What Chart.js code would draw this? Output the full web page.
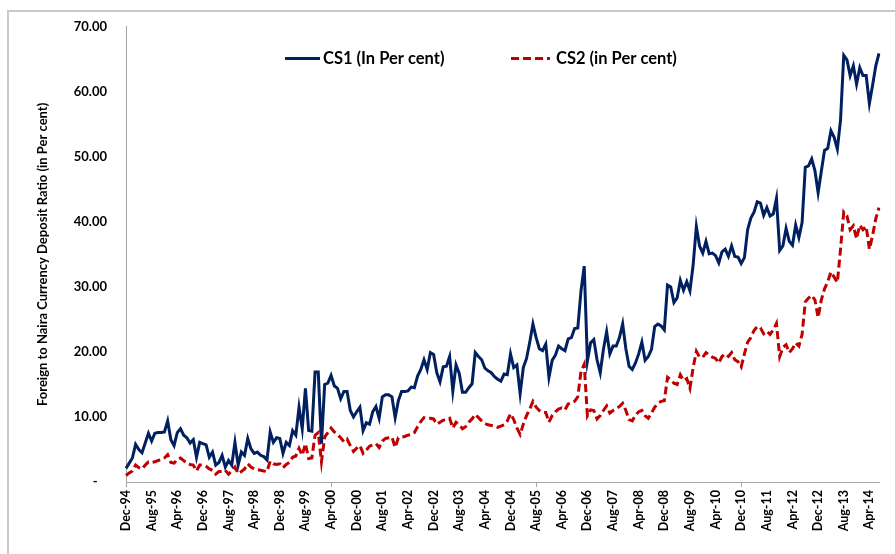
<!DOCTYPE html>
<html>
<head>
<meta charset="utf-8">
<script src="https://cdn.jsdelivr.net/npm/chart.js@4.4.1/dist/chart.umd.min.js"></script>
<style>
  html, body { margin: 0; padding: 0; background: #ffffff; }
  #wrap { width: 895px; height: 554px; position: relative; }
</style>
</head>
<body>
<div id="wrap"><canvas id="c" width="895" height="554"></canvas></div>
<script>
// ---- data (monthly, Dec-94 .. Jul-14) ----
const monthNames = ['Jan','Feb','Mar','Apr','May','Jun','Jul','Aug','Sep','Oct','Nov','Dec'];
const startYear = 1994, startMonth = 11; // Dec-94
const cs1 = [
  2.1, 2.9, 3.7, 5.8, 5.0, 4.5, 6.0, 7.5, 6.3, 7.5,
  7.6, 7.6, 7.7, 9.4, 6.5, 5.6, 7.6, 8.2, 7.2, 6.8,
  6.0, 6.5, 3.8, 6.1, 5.9, 5.7, 3.8, 4.6, 2.6, 3.0,
  4.1, 2.3, 3.3, 2.6, 6.1, 2.6, 4.6, 4.1, 6.7, 5.1,
  4.4, 4.6, 4.1, 3.9, 3.4, 7.7, 6.1, 6.8, 6.7, 4.4,
  6.1, 5.6, 7.9, 7.2, 11.5, 8.2, 14.4, 7.9, 7.8, 16.9,
  16.9, 5.9, 15.0, 15.2, 16.4, 14.8, 14.4, 12.8, 13.9, 13.9,
  11.0, 10.0, 10.8, 11.5, 7.9, 9.1, 8.9, 10.8, 11.6, 9.8,
  13.1, 13.4, 13.4, 13.1, 9.9, 12.5, 13.9, 13.9, 14.0, 14.6,
  14.5, 16.3, 17.3, 18.8, 17.3, 19.9, 19.6, 16.8, 15.4, 17.7,
  17.8, 19.3, 14.0, 18.0, 16.7, 13.8, 13.8, 14.5, 15.1, 19.9,
  19.3, 18.8, 17.5, 17.1, 16.8, 16.2, 15.8, 15.5, 16.6, 16.5,
  19.7, 17.6, 18.0, 13.6, 17.6, 19.0, 21.5, 24.3, 22.2, 20.5,
  20.2, 21.2, 16.1, 18.7, 19.5, 20.9, 20.5, 20.2, 22.0, 22.2,
  23.6, 23.7, 29.4, 33.2, 18.6, 21.4, 21.9, 18.8, 16.8, 20.4,
  23.1, 19.7, 20.9, 20.9, 22.2, 24.3, 20.5, 17.8, 17.3, 18.3,
  19.7, 21.5, 18.7, 19.3, 20.4, 23.9, 24.3, 24.0, 23.4, 30.3,
  30.0, 27.6, 28.3, 31.0, 29.5, 30.8, 29.4, 33.4, 39.3, 36.3,
  35.2, 37.0, 35.1, 35.2, 34.8, 33.7, 35.4, 35.8, 34.7, 36.3,
  34.7, 34.6, 33.6, 34.5, 38.8, 40.6, 41.5, 43.1, 42.9, 41.0,
  42.2, 40.9, 41.2, 43.6, 35.6, 36.3, 39.0, 37.0, 36.4, 39.5,
  37.6, 39.9, 48.4, 48.6, 49.7, 47.9, 44.5, 47.8, 51.0, 51.3,
  54.0, 53.0, 51.2, 55.7, 65.6, 64.9, 62.5, 64.0, 61.2, 63.7,
  62.5, 62.5, 58.2, 61.0, 64.0, 65.9
];
const cs2 = [
  1.0, 1.4, 1.7, 2.6, 2.2, 2.0, 2.6, 3.1, 3.0, 3.1,
  3.3, 3.4, 3.7, 4.2, 3.0, 2.9, 3.5, 3.7, 3.3, 2.9,
  2.7, 2.6, 1.7, 2.6, 2.6, 2.4, 2.0, 1.8, 1.2, 1.6,
  1.6, 1.8, 1.2, 1.7, 2.3, 1.3, 1.6, 2.0, 2.8, 2.3,
  2.0, 1.9, 1.8, 1.7, 1.6, 3.2, 2.8, 2.7, 2.8, 2.2,
  2.7, 3.0, 3.8, 4.0, 5.2, 4.1, 5.9, 3.6, 3.7, 7.2,
  7.6, 3.1, 6.9, 7.6, 8.3, 7.7, 7.3, 6.8, 6.2, 6.6,
  5.6, 4.7, 5.2, 5.6, 4.4, 4.9, 5.5, 5.7, 5.9, 5.3,
  6.3, 6.7, 6.8, 6.9, 5.3, 6.8, 6.9, 7.0, 7.2, 7.3,
  7.6, 8.5, 9.3, 9.9, 9.8, 9.8, 9.7, 8.9, 9.2, 9.5,
  9.6, 9.8, 8.3, 9.2, 8.8, 8.2, 8.5, 9.2, 9.7, 10.4,
  9.9, 9.4, 9.0, 8.8, 8.7, 8.6, 8.4, 8.6, 8.8, 9.4,
  10.5, 9.6, 8.3, 7.3, 8.9, 10.2, 11.2, 12.4, 11.5, 11.0,
  10.7, 10.7, 9.2, 10.2, 10.8, 11.2, 11.4, 11.1, 12.0, 12.2,
  12.4, 13.1, 17.0, 18.1, 10.2, 11.1, 11.0, 9.7, 10.2, 11.0,
  11.7, 10.6, 11.0, 11.3, 11.6, 12.1, 11.0, 9.6, 9.4, 10.3,
  10.8, 11.0, 10.2, 9.8, 10.6, 11.5, 12.1, 12.4, 12.5, 16.1,
  15.7, 15.2, 15.0, 16.5, 15.6, 15.9, 14.4, 17.6, 20.1, 19.2,
  19.2, 19.9, 19.5, 19.2, 19.0, 18.3, 19.3, 19.7, 19.3, 19.9,
  18.8, 18.5, 17.7, 19.7, 21.5, 22.2, 23.3, 23.9, 23.7, 22.8,
  23.2, 22.7, 23.4, 24.4, 19.3, 20.7, 21.1, 19.9, 20.5, 21.4,
  20.9, 22.7, 27.7, 28.3, 28.7, 28.0, 25.3, 28.0, 29.7, 30.8,
  32.3, 31.5, 30.7, 35.8, 41.5, 40.9, 38.8, 39.4, 37.4, 39.5,
  38.8, 39.3, 35.8, 37.9, 40.5, 42.2
];
const seriesNames = ['CS1 (In Per cent)', 'CS2 (in Per cent)'];
const yAxisTitle = 'Foreign to Naira Currency Deposit Ratio (in Per cent)';
const yTickValues = [0, 10, 20, 30, 40, 50, 60, 70];
const labelEvery = 8;

const labels = [];
for (let i = 0; i < cs1.length; i++) {
  const m = (startMonth + i) % 12;
  const y = startYear + Math.floor((startMonth + i) / 12);
  labels.push(monthNames[m] + '-' + String(y % 100).padStart(2, '0'));
}

const FONT = 'Lato, "Open Sans", "Noto Sans", sans-serif';

// frame around the chart (as in the spreadsheet export)
const framePlugin = {
  id: 'frame',
  beforeDraw(chart) {
    const ctx = chart.ctx;
    ctx.save();
    ctx.strokeStyle = '#c8c8c8';
    ctx.lineWidth = 2;
    ctx.strokeRect(8, 11, 1000, 1000);
    ctx.restore();
  }
};

// in-plot legend
const legendPlugin = {
  id: 'inLegend',
  afterDraw(chart) {
    const ctx = chart.ctx;
    const items = [
      { x1: 285, x2: 320, tx: 323 },
      { x1: 511, x2: 550, tx: 556 }
    ];
    const y = 58.5;
    ctx.save();
    chart.data.datasets.forEach((ds, i) => {
      const it = items[i];
      ctx.beginPath();
      ctx.strokeStyle = ds.borderColor;
      ctx.lineWidth = ds.borderWidth;
      ctx.setLineDash(ds.borderDash || []);
      ctx.moveTo(it.x1, y);
      ctx.lineTo(it.x2, y);
      ctx.stroke();
      ctx.setLineDash([]);
      ctx.fillStyle = '#000';
      ctx.font = 'bold 16.5px ' + FONT;
      ctx.textBaseline = 'middle';
      ctx.textAlign = 'left';
      ctx.fillText(ds.label, it.tx, y);
    });
    ctx.restore();
  }
};

new Chart(document.getElementById('c'), {
  type: 'line',
  data: {
    labels: labels,
    datasets: [
      {
        label: seriesNames[0],
        data: cs1,
        borderColor: '#002060',
        backgroundColor: '#002060',
        borderWidth: 3,
        pointRadius: 0,
        tension: 0,
        fill: false
      },
      {
        label: seriesNames[1],
        data: cs2,
        borderColor: '#C00000',
        backgroundColor: '#C00000',
        borderWidth: 3,
        borderDash: [8, 4],
        pointRadius: 0,
        tension: 0,
        fill: false
      }
    ]
  },
  options: {
    responsive: false,
    animation: false,
    devicePixelRatio: 1,
    layout: { padding: { left: 0, right: 16, top: 22, bottom: 0 } },
    plugins: {
      legend: { display: false },
      tooltip: { enabled: false },
      title: { display: false }
    },
    scales: {
      x: {
        type: 'category',
        offset: false,
        afterFit(scale) { scale.height = 72; },
        border: { display: true, color: '#a6a6a6', width: 1 },
        grid: {
          display: true,
          drawOnChartArea: false,
          drawTicks: true,
          tickLength: 5,
          color: (ctx) => (ctx.index % labelEvery === 0 ? '#a6a6a6' : 'rgba(0,0,0,0)')
        },
        ticks: {
          autoSkip: false,
          maxRotation: 90,
          minRotation: 90,
          padding: 3,
          color: '#000',
          font: { family: FONT, size: 12.5, weight: 'bold' },
          callback: (v, i) => (i % labelEvery === 0 ? labels[i] : null)
        }
      },
      y: {
        min: 0,
        max: 70,
        afterFit(scale) { scale.width = 126; },
        afterBuildTicks(scale) { scale.ticks = yTickValues.map(v => ({ value: v })); },
        border: { display: true, color: '#a6a6a6', width: 1 },
        grid: { display: true, drawOnChartArea: false, drawTicks: false, color: 'rgba(0,0,0,0)' },
        ticks: {
          padding: 19,
          color: '#000',
          font: { family: FONT, size: 13, weight: 'bold' },
          callback: (v) => (v === 0 ? '-   ' : v.toFixed(2))
        },
        title: {
          display: true,
          text: yAxisTitle,
          color: '#000',
          font: { family: FONT, size: 13, weight: 'bold' },
          padding: { top: 35, bottom: 0 }
        }
      }
    }
  },
  plugins: [framePlugin, legendPlugin]
});
</script>
</body>
</html>
